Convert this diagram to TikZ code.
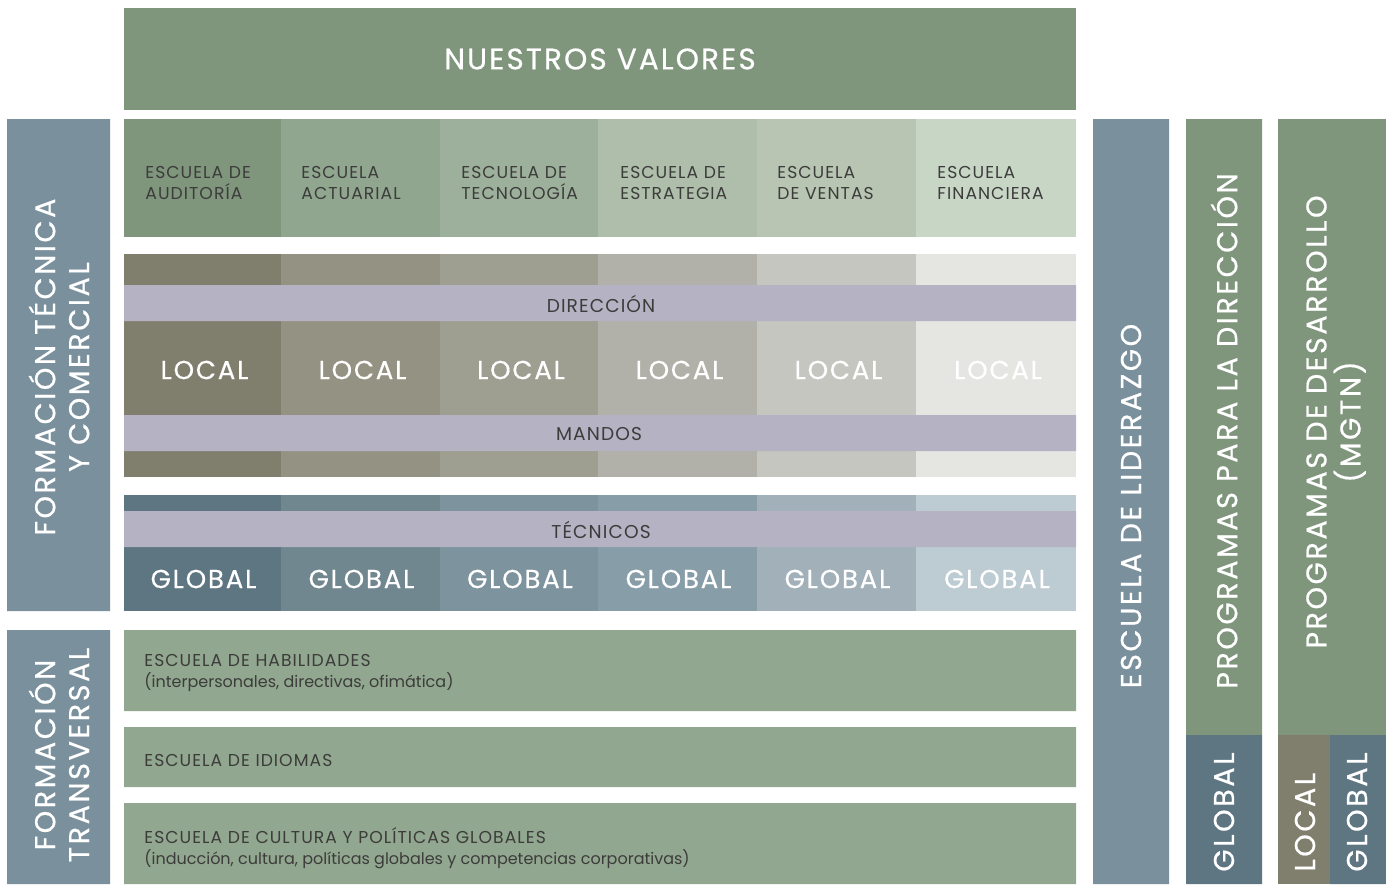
\documentclass[tikz,border=0pt]{standalone}
\usepackage{fontspec}
\setmainfont{Poppins}
\newfontfamily\fvert{Poppins}[LetterSpace=9,FakeBold=0.6]
\newfontfamily\fgran{Poppins}[LetterSpace=7,FakeBold=0.5]
\newfontfamily\fchico{Poppins}[LetterSpace=6]
\newfontfamily\fminus{Poppins}
\definecolor{verde}{HTML}{7F967D}
\definecolor{esc1}{HTML}{7F967D}
\definecolor{esc2}{HTML}{90A68F}
\definecolor{esc3}{HTML}{9DB09B}
\definecolor{esc4}{HTML}{AEBEAB}
\definecolor{esc5}{HTML}{B8C5B2}
\definecolor{esc6}{HTML}{C8D6C6}
\definecolor{loc1}{HTML}{807F6E}
\definecolor{loc2}{HTML}{949383}
\definecolor{loc3}{HTML}{9E9E91}
\definecolor{loc4}{HTML}{B1B1A9}
\definecolor{loc5}{HTML}{C5C6BF}
\definecolor{loc6}{HTML}{E5E6E1}
\definecolor{glo1}{HTML}{5E7582}
\definecolor{glo2}{HTML}{71878F}
\definecolor{glo3}{HTML}{7D939E}
\definecolor{glo4}{HTML}{879DA8}
\definecolor{glo5}{HTML}{A2B0B9}
\definecolor{glo6}{HTML}{BDCBD2}
\definecolor{lila}{HTML}{B5B2C4}
\definecolor{pizarra}{HTML}{7A919D}
\definecolor{transv}{HTML}{91A78F}
\definecolor{tinta}{HTML}{3C3C3B}
\begin{document}
\begin{tikzpicture}[x=0.5pt,y=-0.5pt,inner sep=0pt,
	vert/.style={rotate=90,text=white,align=center,font=\fvert\fontsize{14.3}{17}\selectfont},
	grande/.style={text=white,font=\fgran\fontsize{13}{15}\selectfont},
	chico/.style={text=tinta,align=left,anchor=west,font=\fchico\fontsize{8.6}{10.5}\selectfont},
	banda/.style={text=tinta,font=\fchico\fontsize{9.3}{10}\selectfont}]
	\newcommand\minus{\fminus\fontsize{8}{10.5}\selectfont}
	\useasboundingbox (0,0) rectangle (1386,884);
	% valores
	\fill[verde] (124,8) rectangle (1076,110);
	\node[grande,font=\fgran\fontsize{14.8}{16}\selectfont] (valores) at (600,59) {NUESTROS VALORES};
	% escuelas, local y global
	\foreach \xa/\xb/\n in {124/281/1,281/440/2,440/598/3,598/757/4,757/916/5,916/1076/6}{
		\fill[esc\n] (\xa,119) rectangle (\xb,237);
		\fill[loc\n] (\xa,254) rectangle (\xb,477);
		\fill[glo\n] (\xa,495) rectangle (\xb,611);
		\node[grande] (local\n) at ({(\xa+\xb)/2+2},370) {LOCAL};
		\node[grande] (global\n) at ({(\xa+\xb)/2+1},579) {GLOBAL};
	}
	\foreach \x/\n/\t in {145/1/{ESCUELA DE\\AUDITORÍA}, 301/2/{ESCUELA\\ACTUARIAL},
		461/3/{ESCUELA DE\\TECNOLOGÍA}, 620/4/{ESCUELA DE\\ESTRATEGIA},
		777/5/{ESCUELA\\DE VENTAS}, 937/6/{ESCUELA\\FINANCIERA}}{
		\node[chico] (escuela\n) at (\x,183) {\t};
	}
	\fill[lila] (124,285) rectangle (1076,321) (124,415) rectangle (1076,451) (124,511) rectangle (1076,547);
	\node[banda] (direccion) at (601,304) {DIRECCIÓN};
	\node[banda] (mandos) at (599,434) {MANDOS};
	\node[banda] (tecnicos) at (601,530) {TÉCNICOS};
	% transversal
	\fill[transv] (124,630) rectangle (1076,711) (124,727) rectangle (1076,787) (124,803) rectangle (1076,884);
	\node[chico] (habilidades) at (144,673) {ESCUELA DE HABILIDADES\\{\minus(interpersonales, directivas, ofimática)}};
	\node[chico] (idiomas) at (144,760) {ESCUELA DE IDIOMAS};
	\node[chico] (cultura) at (144,848) {ESCUELA DE CULTURA Y POLÍTICAS GLOBALES\\{\minus(inducción, cultura, políticas globales y competencias corporativas)}};
	% columnas laterales
	\fill[pizarra] (7,119) rectangle (110,611) (7,630) rectangle (110,884) (1093,119) rectangle (1169,884);
	\fill[verde] (1186,119) rectangle (1262,735) (1278,119) rectangle (1386,735);
	\fill[glo1] (1186,735) rectangle (1262,884) (1330,735) rectangle (1386,884);
	\fill[loc1] (1278,735) rectangle (1330,884);
	\node[vert] (tecnica) at (59,367) {FORMACIÓN TÉCNICA\\Y COMERCIAL};
	\node[vert] (transversal) at (59,755) {FORMACIÓN\\TRANSVERSAL};
	\node[vert] (liderazgo) at (1131,506) {ESCUELA DE LIDERAZGO};
	\node[vert] (programas) at (1224,431) {PROGRAMAS PARA LA DIRECCIÓN};
	\node[vert] (mgtn) at (1336,422) {PROGRAMAS DE DESARROLLO\\(MGTN)};
	\foreach \x/\n/\t in {1224/a/GLOBAL,1305/b/LOCAL,1357/c/GLOBAL}{
		\node[vert,anchor=west] (pie\n) at (\x,872) {\t};
	}
\end{tikzpicture}
\end{document}
